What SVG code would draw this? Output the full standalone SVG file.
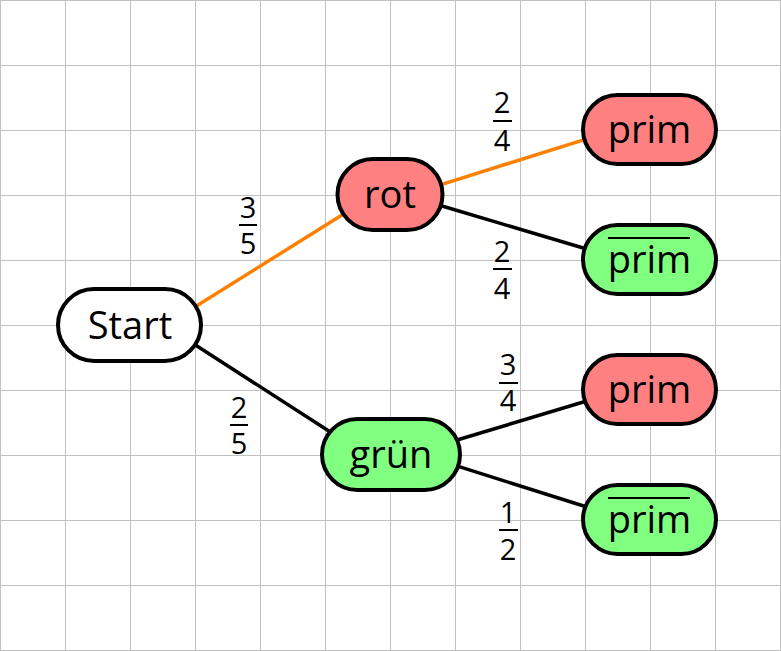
<svg xmlns="http://www.w3.org/2000/svg" width="781" height="651" viewBox="0 0 781 651">
<defs>
<pattern id="grid" x="0" y="0" width="65" height="65" patternUnits="userSpaceOnUse">
<path d="M0.5 0 V65 M0 0.5 H65" stroke="#c0c0c0" stroke-width="1" fill="none"/>
</pattern>
</defs>
<style>
.node{stroke:#000;stroke-width:4}
.white{fill:#fff}
.red{fill:#ff8080}
.green{fill:#80ff80}
.lbl{font-family:"Open Sans","Noto Sans","DejaVu Sans",sans-serif;font-size:38px;fill:#000;text-anchor:middle}
.frac{font-family:"Open Sans","Noto Sans","DejaVu Sans",sans-serif;font-size:29px;fill:#000;text-anchor:middle}
.bar{stroke:#000;stroke-width:2}
.edge{stroke-width:3.5;fill:none}
.orange{stroke:#ff8000}
.black{stroke:#000}
</style>
<rect width="781" height="651" fill="#fff"/>
<rect width="781" height="651" fill="url(#grid)"/>
<path d="M780.5 0 V651 M0 650.5 H781" stroke="#c0c0c0" stroke-width="1"/>
<g id="connectors">
<line class="edge orange" x1="190" y1="310" x2="350" y2="210"/>
<line class="edge black" x1="190" y1="341.5" x2="335" y2="435"/>
<line class="edge orange" x1="438" y1="185.6" x2="590" y2="137.8"/>
<line class="edge black" x1="437" y1="204.5" x2="590" y2="250"/>
<line class="edge black" x1="452" y1="441.5" x2="590" y2="400"/>
<line class="edge black" x1="452" y1="464.4" x2="590" y2="508"/>
</g>
<g id="fractions">
<text class="frac" x="248" y="218">3</text><line class="bar" x1="239" y1="225" x2="257" y2="225"/><text class="frac" x="248" y="254">5</text>
<text class="frac" x="239" y="418">2</text><line class="bar" x1="230" y1="425" x2="248" y2="425"/><text class="frac" x="239" y="454">5</text>
<text class="frac" x="502" y="113">2</text><line class="bar" x1="493" y1="121" x2="512" y2="121"/><text class="frac" x="502" y="151">4</text>
<text class="frac" x="502" y="262">2</text><line class="bar" x1="493" y1="269" x2="512" y2="269"/><text class="frac" x="502" y="299">4</text>
<text class="frac" x="508" y="375">3</text><line class="bar" x1="499" y1="383" x2="518" y2="383"/><text class="frac" x="508" y="411">4</text>
<text class="frac" x="508" y="523">1</text><line class="bar" x1="499" y1="530" x2="518" y2="530"/><text class="frac" x="508" y="560">2</text>
</g>
<g id="start">
<rect class="node white" x="58" y="289" width="143" height="72" rx="36"/>
<text class="lbl" x="130" y="339">Start</text>
</g>
<g id="rot">
<rect class="node red" x="337.5" y="159" width="105" height="71" rx="35.5"/>
<text class="lbl" x="390" y="208">rot</text>
</g>
<g id="gruen">
<rect class="node green" x="322" y="419" width="138" height="71" rx="35.5"/>
<text class="lbl" x="391" y="468">grün</text>
</g>
<g id="prim1">
<rect class="node red" x="583" y="95" width="133" height="69" rx="34.5"/>
<text class="lbl" x="649.5" y="143">prim</text>
</g>
<g id="prim2">
<rect class="node green" x="583" y="225" width="133" height="69" rx="34.5"/>
<text class="lbl" x="649.5" y="273">prim</text>
<line class="bar" x1="608" y1="238" x2="690" y2="238" stroke-width="2.5"/>
</g>
<g id="prim3">
<rect class="node red" x="583" y="355" width="133" height="69" rx="34.5"/>
<text class="lbl" x="649.5" y="403">prim</text>
</g>
<g id="prim4">
<rect class="node green" x="583" y="485" width="133" height="69" rx="34.5"/>
<text class="lbl" x="649.5" y="533">prim</text>
<line class="bar" x1="608" y1="498" x2="690" y2="498" stroke-width="2.5"/>
</g>
</svg>
